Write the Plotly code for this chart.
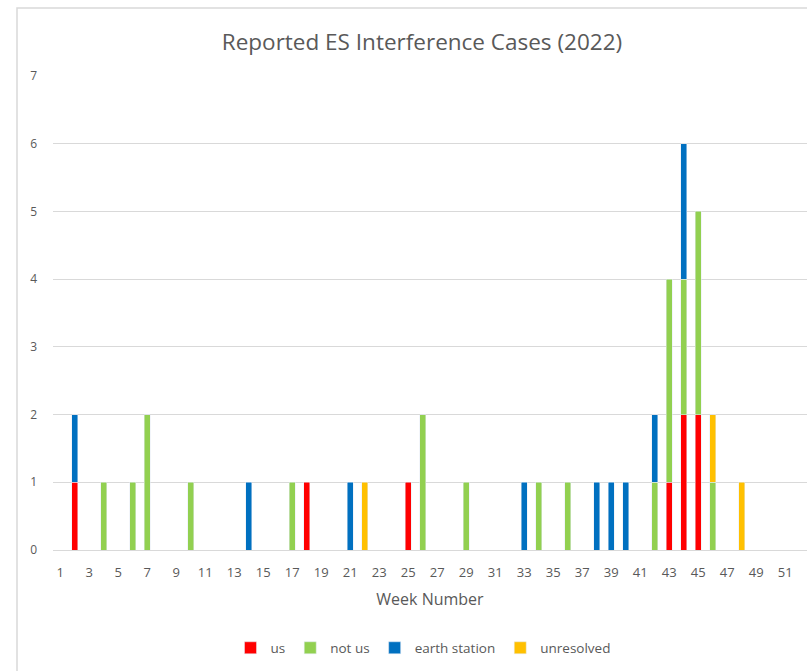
import plotly.graph_objects as go

# Data (week number -> count) per category
us_weeks = [2, 18, 25, 43, 44, 45]
us_counts = [1, 1, 1, 1, 2, 2]

notus_weeks = [4, 6, 7, 10, 17, 26, 29, 34, 36, 42, 43, 44, 45, 46]
notus_counts = [1, 1, 2, 1, 1, 2, 1, 1, 1, 1, 3, 2, 3, 1]

earth_weeks = [2, 14, 21, 33, 38, 39, 40, 42, 44]
earth_counts = [1, 1, 1, 1, 1, 1, 1, 1, 2]

unres_weeks = [22, 46, 48]
unres_counts = [1, 1, 1]

tick_weeks = list(range(1, 52, 2))
y_ticks = list(range(0, 8))

FONT = "Open Sans"
GRAY = "#595959"

fig = go.Figure()
fig.add_trace(go.Bar(x=us_weeks, y=us_counts, name="us", marker_color="#FF0000"))
fig.add_trace(go.Bar(x=notus_weeks, y=notus_counts, name="not us", marker_color="#92D050"))
fig.add_trace(go.Bar(x=earth_weeks, y=earth_counts, name="earth station", marker_color="#0070C0"))
fig.add_trace(go.Bar(x=unres_weeks, y=unres_counts, name="unresolved", marker_color="#FFC000"))

W, H = 807, 671
L, R, T, B = 53, 0, 76, 121
pw, ph = W - L - R, H - T - B

fig.update_layout(
    width=W, height=H,
    margin=dict(l=L, r=R, t=T, b=B),
    barmode="stack",
    bargap=0.58,
    paper_bgcolor="white",
    plot_bgcolor="white",
    font=dict(family=FONT, color=GRAY, size=12),
    title=dict(text="Reported ES Interference Cases (2022)", x=422 / W,
               xanchor="center", y=1 - 42 / H, yanchor="middle",
               font=dict(size=22.5, color=GRAY, family=FONT)),
    xaxis=dict(range=[0.5, 52.5], tickmode="array", tickvals=tick_weeks,
               ticktext=[str(t) for t in tick_weeks], showgrid=False,
               showline=True, linecolor="#d9d9d9", linewidth=1, ticks="",
               ticklabelstandoff=10,
               tickfont=dict(size=13, color=GRAY),
               title=dict(text="Week Number", font=dict(size=16, color=GRAY), standoff=14)),
    yaxis=dict(range=[0, 7], tickvals=y_ticks, showgrid=True, gridcolor="#d9d9d9",
               gridwidth=1, zeroline=False, showline=False, ticks="",
               ticklabelstandoff=15, tickfont=dict(size=12, color=GRAY)),
    legend=dict(orientation="h", x=(423 - L) / pw, xanchor="center",
                y=(0 - (648 - 550)) / ph, yanchor="middle",
                font=dict(size=13.5, color=GRAY), itemwidth=30, traceorder="normal"),
    showlegend=True,
    shapes=[dict(type="rect", xref="paper", yref="paper",
                 x0=(17 - L) / pw, x1=1.05, y0=-0.5, y1=1 + (T - 8) / ph,
                 line=dict(color="#d9d9d9", width=1.5), fillcolor="rgba(0,0,0,0)", layer="below")],
)

fig.write_html("out.html", config={"displayModeBar": False},
               post_script="document.body.style.margin='0';")
